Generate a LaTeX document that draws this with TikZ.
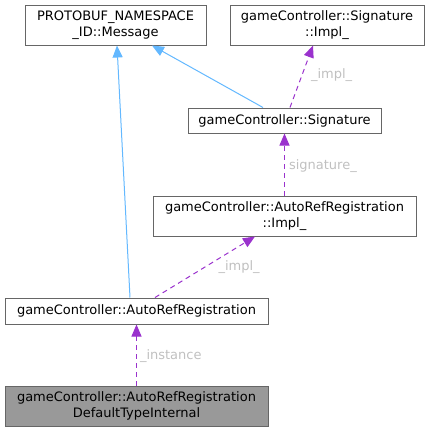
\documentclass[tikz,border=0pt]{standalone}
\usepackage{fontspec}
\setmainfont{DejaVu Sans}
\usetikzlibrary{arrows.meta,positioning}
\definecolor{edgeblue}{HTML}{63B8FF}
\definecolor{edgepurple}{HTML}{9A32CD}
\definecolor{boxborder}{HTML}{666666}
\definecolor{labelgray}{HTML}{C0C0C0}
\definecolor{boxgray}{HTML}{999999}
\begin{document}
\begin{tikzpicture}[x=1pt,y=-1pt,
  cls/.style={draw=boxborder, line width=1pt, fill=white, inner sep=0pt, align=center,
    font=\fontsize{13}{15.5}\selectfont},
  inherit/.style={draw=edgeblue, line width=1pt, -{Triangle[length=12pt,width=10pt]}},
  usage/.style={draw=edgepurple, line width=1pt, dash pattern=on 5pt off 4pt,
    -{Triangle[length=12pt,width=10pt]}},
  elabel/.style={text=labelgray, font=\fontsize{13}{15.5}\selectfont, inner sep=0pt}]
\useasboundingbox (0,0) rectangle (429,432);
\node[cls, minimum width=181pt, minimum height=40pt] (msg) at (115.5,25) {PROTOBUF\_NAMESPACE\\\_ID::Message};
\node[cls, minimum width=194pt, minimum height=40pt] (sigimpl) at (327,25) {gameController::Signature\\::Impl\_};
\node[cls, minimum width=193pt, minimum height=25pt] (sig) at (284.5,120.5) {gameController::Signature};
\node[cls, minimum width=263pt, minimum height=40pt] (arimpl) at (284.5,216) {gameController::AutoRefRegistration\\::Impl\_};
\node[cls, minimum width=263pt, minimum height=26pt] (ar) at (136.5,311) {gameController::AutoRefRegistration};
\node[cls, fill=boxgray, minimum width=263pt, minimum height=40pt] (dti) at (136.5,406) {gameController::AutoRefRegistration\\DefaultTypeInternal};

\draw[inherit] ([xshift=-6.5pt]ar.north) -- ([xshift=1.5pt]msg.south);
\draw[inherit] ([xshift=-21.5pt]sig.north) -- ([xshift=36.5pt]msg.south);
\draw[usage] ([xshift=5.5pt]sig.north) -- ([xshift=-14pt]sigimpl.south) node[elabel, pos=0.5, anchor=west, xshift=9pt, yshift=1pt] (l1) {\_impl\_};
\draw[usage] (arimpl.north) -- (sig.south) node[elabel, pos=0.5, anchor=west, xshift=4pt, yshift=-2pt] (l2) {signature\_};
\draw[usage] ([xshift=18.5pt]ar.north) -- ([xshift=-29.5pt]arimpl.south) node[elabel, pos=0.5, anchor=west, xshift=13pt, yshift=0pt] (l3) {\_impl\_};
\draw[usage] (dti.north) -- (ar.south) node[elabel, pos=0.5, anchor=west, xshift=3pt, yshift=-1pt] (l4) {\_instance};
\end{tikzpicture}
\end{document}
